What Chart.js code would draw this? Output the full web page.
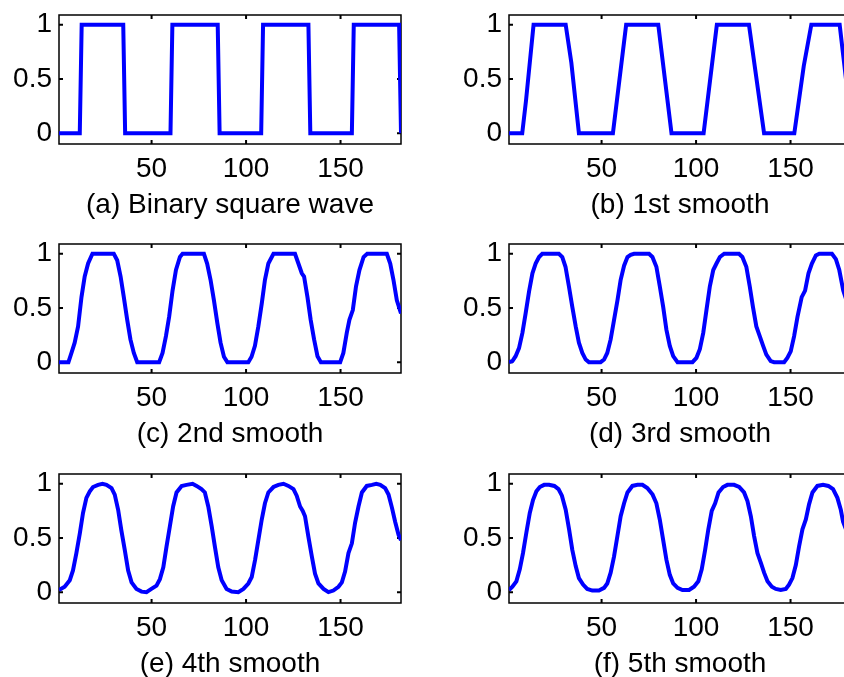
<!DOCTYPE html>
<html>
<head>
<meta charset="utf-8">
<script src="https://cdn.jsdelivr.net/npm/chart.js@4.4.1/dist/chart.umd.min.js"></script>
<style>
  html, body { margin: 0; padding: 0; background: #fff; overflow: hidden; }
  body { width: 844px; height: 677px; position: relative; }
  .panel { position: absolute; width: 430px; height: 229px; }
</style>
</head>
<body>
<div class="panel" style="left:0px;top:0px"><canvas id="chartA" width="430" height="229"></canvas></div>
<div class="panel" style="left:450px;top:0px"><canvas id="chartB" width="430" height="229"></canvas></div>
<div class="panel" style="left:0px;top:229px"><canvas id="chartC" width="430" height="229"></canvas></div>
<div class="panel" style="left:450px;top:229px"><canvas id="chartD" width="430" height="229"></canvas></div>
<div class="panel" style="left:0px;top:459px"><canvas id="chartE" width="430" height="229"></canvas></div>
<div class="panel" style="left:450px;top:459px"><canvas id="chartF" width="430" height="229"></canvas></div>
<script>
// axis limits and ticks, same for all six panels
const xMin = 1, xMax = 182;
const yMin = -0.1, yMax = 1.09;
const xTicks = [50, 100, 150];
const yTicks = [0, 0.5, 1];

const titles = [
  "(a) Binary square wave",
  "(b) 1st smooth",
  "(c) 2nd smooth",
  "(d) 3rd smooth",
  "(e) 4th smooth",
  "(f) 5th smooth"
];

// [x, y] points
const squareWave = [
  [1, 0], [12, 0], [13, 1], [35, 1], [36, 0], [60, 0], [61, 1], [85, 1], [86, 0],
  [108, 0], [109, 1], [133, 1], [134, 0], [156, 0], [157, 1], [181, 1], [182, 0]
];

const smooth1 = [
  [1, 0], [8, 0], [10, 0.3], [14, 1], [31, 1], [34, 0.65], [38, 0], [56, 0], [63, 1],
  [80, 1], [87, 0], [104, 0], [111, 1], [128, 1], [136, 0], [152, 0], [157, 0.62],
  [161, 1], [176, 1], [178, 0.7], [182, 0.1]
];

const smooth2 = [
  [1, 0], [6, 0], [7.6, 0.085], [9.3, 0.18], [11.1, 0.33], [12.9, 0.6], [14.6, 0.79], [16.4, 0.91], [18.7, 1],
  [30, 1], [31.8, 0.94], [33.6, 0.79], [35.3, 0.6], [37.1, 0.39], [38.8, 0.21], [40.6, 0.085], [42.4, 0],
  [54, 0], [55.8, 0.085], [57.6, 0.24], [59.3, 0.42], [61.1, 0.66], [62.9, 0.85], [65, 0.97], [66.4, 1],
  [77.7, 1], [79.4, 0.91], [81.2, 0.76], [83, 0.57], [84.8, 0.36], [86.5, 0.18], [88.3, 0.05], [90.1, 0],
  [101.2, 0], [102.9, 0.05], [104.7, 0.15], [106.5, 0.33], [108.3, 0.54], [110, 0.76], [111.8, 0.91], [114.5, 1],
  [125.9, 1], [127.7, 0.91], [129.5, 0.82], [130.7, 0.79], [132.5, 0.6], [134.2, 0.39], [136, 0.21], [137.8, 0.055], [139.6, 0],
  [149.8, 0], [151.5, 0.085], [153.3, 0.27], [154.7, 0.39], [156.5, 0.48], [158.2, 0.7], [160, 0.85], [162.2, 0.97], [164.1, 1],
  [174.5, 1], [176.3, 0.91], [178, 0.76], [179.8, 0.57], [182, 0.45]
];

const smooth3 = [
  [1, 0], [2.8, 0.01], [4.5, 0.055], [6.3, 0.13], [8.1, 0.27], [9.8, 0.45], [11.6, 0.65], [13.4, 0.82], [15.1, 0.91], [16.9, 0.97], [18.6, 1],
  [27.4, 1], [29.2, 0.97], [30.9, 0.88], [32.7, 0.7], [34.5, 0.51], [36.3, 0.33], [38, 0.18], [39.8, 0.085], [41.6, 0.024], [43.3, 0],
  [49.5, 0], [51.3, 0.024], [53, 0.085], [54.8, 0.21], [56.6, 0.39], [58.4, 0.57], [60.1, 0.76], [61.9, 0.89], [63.7, 0.97], [65.4, 0.99], [67.2, 1],
  [75.1, 1], [76.9, 0.97], [79, 0.88], [80.8, 0.7], [82.6, 0.51], [84.3, 0.3], [86.1, 0.15], [87.9, 0.055], [90.2, 0],
  [98.1, 0], [100.2, 0.04], [102, 0.12], [103.8, 0.27], [105.5, 0.48], [107.3, 0.7], [109.1, 0.85], [110.8, 0.91], [112.6, 0.97], [114.9, 1],
  [122.7, 1], [124.5, 0.97], [126.6, 0.88], [128.4, 0.7], [130.1, 0.51], [131.9, 0.33], [133.7, 0.24], [135.5, 0.15], [137.2, 0.07], [139.5, 0.01], [141.3, 0],
  [146.6, 0], [148.3, 0.04], [150.1, 0.1], [151.9, 0.24], [153.7, 0.42], [155.9, 0.6], [157.7, 0.66], [159.5, 0.82], [161.3, 0.91], [163.4, 0.985], [165.2, 1],
  [171.9, 1], [174, 0.95], [175.8, 0.85], [177.9, 0.66], [180, 0.55], [182, 0.46]
];

const smooth4 = [
  [1, 0.02], [4, 0.05], [6.7, 0.11], [8.4, 0.2], [10.2, 0.36], [12, 0.54], [13.7, 0.73], [15.5, 0.87], [17.3, 0.93], [19, 0.97], [21.7, 0.99], [24, 1],
  [26.1, 0.99], [28.8, 0.96], [30.5, 0.9], [32.3, 0.76], [34, 0.57], [35.8, 0.39], [37.6, 0.2], [39.4, 0.09], [42, 0.03], [44.7, 0.005], [47.3, 0],
  [49.9, 0.03], [52.6, 0.06], [54.4, 0.12], [56.2, 0.23], [57.9, 0.42], [59.7, 0.61], [61.4, 0.79], [63.2, 0.92], [65.9, 0.98], [68.5, 0.99], [71.7, 1],
  [73.8, 0.98], [76.4, 0.95], [78.2, 0.92], [80, 0.79], [81.8, 0.61], [83.5, 0.42], [85.3, 0.23], [87.1, 0.11], [89.7, 0.03], [92.4, 0.005], [95.9, 0],
  [98.6, 0.03], [101.2, 0.08], [103, 0.14], [104.8, 0.3], [106.5, 0.48], [108.3, 0.67], [110, 0.82], [111.8, 0.92], [114.5, 0.97], [117.1, 0.99], [119.8, 1],
  [122.4, 0.98], [125.1, 0.95], [126.8, 0.89], [128.6, 0.79], [130, 0.75], [131.2, 0.7], [133, 0.51], [134.8, 0.33], [136.5, 0.17], [138.3, 0.08], [141, 0.03], [143.6, 0],
  [146.2, 0.015], [148.9, 0.05], [150.7, 0.09], [152.4, 0.19], [154.2, 0.36], [156, 0.45], [157.7, 0.64], [159.5, 0.79], [161.3, 0.92], [163.9, 0.98], [166.6, 0.99], [168.9, 1],
  [171, 0.99], [173.6, 0.96], [175.4, 0.9], [177.2, 0.78], [178.9, 0.65], [180.7, 0.53], [182, 0.48]
];

const smooth5 = [
  [1, 0.02], [2.8, 0.05], [4.9, 0.1], [6.7, 0.21], [8.4, 0.36], [10.2, 0.55], [12, 0.73], [13.7, 0.85], [15.5, 0.93], [17.3, 0.97], [19.6, 0.99], [22.2, 0.99],
  [25, 0.98], [27.2, 0.95], [29, 0.89], [31, 0.76], [32.8, 0.58], [34.5, 0.39], [36.3, 0.24], [38, 0.13], [40.2, 0.07], [42.4, 0.03], [45.1, 0.015], [48.6, 0.015],
  [51.3, 0.04], [53, 0.08], [54.8, 0.18], [56.6, 0.33], [58.4, 0.52], [60.1, 0.7], [61.9, 0.82], [63.7, 0.92], [66.3, 0.98], [69, 0.99], [71.6, 0.99],
  [74.2, 0.96], [77, 0.9], [79, 0.82], [80.8, 0.67], [82.6, 0.48], [84.3, 0.3], [86.1, 0.16], [87.9, 0.08], [90.2, 0.04], [92.8, 0.02], [96.3, 0.02],
  [98.9, 0.05], [101.2, 0.1], [103, 0.21], [104.8, 0.39], [106.5, 0.58], [108.3, 0.75], [110.1, 0.82], [111.9, 0.92], [114.3, 0.97], [116.6, 0.99], [120.1, 0.99],
  [122.8, 0.97], [125.4, 0.92], [127.2, 0.84], [129, 0.7], [130.7, 0.52], [132.5, 0.36], [134.3, 0.27], [136, 0.18], [137.8, 0.1], [140.1, 0.05], [142.2, 0.03], [144.8, 0.02],
  [147.5, 0.03], [149.2, 0.07], [151, 0.13], [152.8, 0.25], [154.5, 0.42], [156.3, 0.58], [158.1, 0.67], [159.8, 0.81], [161.6, 0.92], [164.2, 0.98], [167.2, 0.99],
  [170, 0.98], [172.5, 0.95], [174.8, 0.87], [176.6, 0.76], [177.8, 0.65], [180, 0.55], [182, 0.47]
];

const tickFont = { family: "'Liberation Sans', Arial, Helvetica, sans-serif", size: 28 };

// MATLAB style box with inward ticks on all four sides
const framePlugin = {
  id: "frame",
  beforeDatasetsDraw(chart) {
    const { ctx, chartArea: a, scales } = chart;
    ctx.save();
    ctx.strokeStyle = "#000";
    ctx.lineWidth = 1.5;
    ctx.strokeRect(a.left, a.top, a.width, a.height);
    ctx.lineWidth = 2;
    ctx.beginPath();
    yTicks.forEach((v) => {
      const p = scales.y.getPixelForValue(v);
      ctx.moveTo(a.left, p);
      ctx.lineTo(a.left + 4, p);
      ctx.moveTo(a.right, p);
      ctx.lineTo(a.right - 4, p);
    });
    xTicks.forEach((v) => {
      const p = scales.x.getPixelForValue(v);
      ctx.moveTo(p, a.bottom);
      ctx.lineTo(p, a.bottom - 4);
      ctx.moveTo(p, a.top);
      ctx.lineTo(p, a.top + 4);
    });
    ctx.stroke();
    ctx.restore();
  },
};

// keep tick labels from pushing the plot box around
function noLabelPadding(s) {
  s.paddingTop = 0;
  s.paddingBottom = 0;
  s.paddingLeft = 0;
  s.paddingRight = 0;
}

function createPanel(canvasId, title, points) {
  const ctx = document.getElementById(canvasId).getContext("2d");
  new Chart(ctx, {
    type: "line",
    data: {
      datasets: [
        {
          data: points.map((p) => ({ x: p[0], y: p[1] })),
          borderColor: "rgb(0, 0, 255)",
          borderWidth: 4,
          pointRadius: 0,
          tension: 0,
          fill: false,
        },
      ],
    },
    options: {
      responsive: false,
      animation: false,
      events: [],
      layout: { padding: { top: 15, right: 29, left: 0, bottom: 0 } },
      plugins: { legend: { display: false }, tooltip: { enabled: false } },
      scales: {
        x: {
          type: "linear",
          min: xMin,
          max: xMax,
          grid: { display: false, drawTicks: false },
          border: { display: false },
          afterBuildTicks: (s) => { s.ticks = xTicks.map((v) => ({ value: v })); },
          afterFit: (s) => { s.height = 85; noLabelPadding(s); },
          ticks: { color: "#000", font: tickFont, padding: 8, maxRotation: 0, autoSkip: false, callback: (v) => String(v) },
          title: { display: true, text: title, color: "#000", font: tickFont, padding: { top: 0, bottom: 7 } },
        },
        y: {
          type: "linear",
          min: yMin,
          max: yMax,
          grid: { display: false, drawTicks: false },
          border: { display: false },
          afterBuildTicks: (s) => { s.ticks = yTicks.map((v) => ({ value: v })); },
          afterFit: (s) => { s.width = 59; noLabelPadding(s); },
          ticks: { color: "#000", font: tickFont, padding: 7, callback: (v) => String(v) },
        },
      },
    },
    plugins: [framePlugin],
  });
}

createPanel("chartA", titles[0], squareWave);
createPanel("chartB", titles[1], smooth1);
createPanel("chartC", titles[2], smooth2);
createPanel("chartD", titles[3], smooth3);
createPanel("chartE", titles[4], smooth4);
createPanel("chartF", titles[5], smooth5);
</script>
</body>
</html>
